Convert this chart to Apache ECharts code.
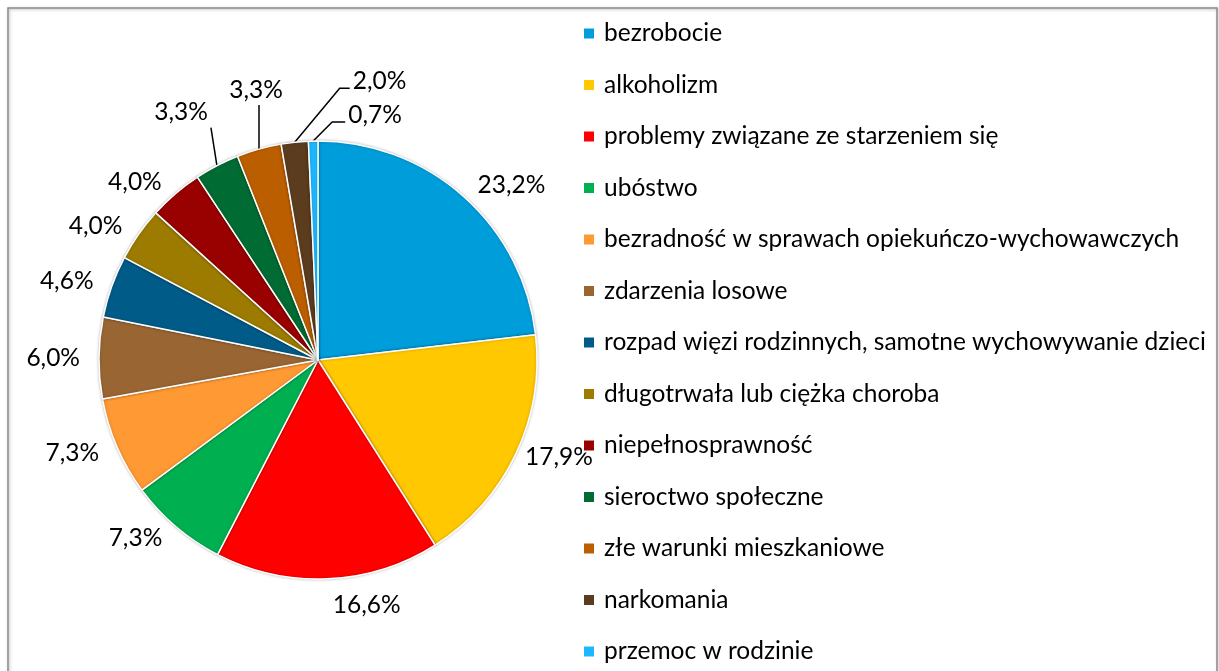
<!DOCTYPE html>
<html>
<head>
<meta charset="utf-8">
<script src="https://cdn.jsdelivr.net/npm/echarts@6/dist/echarts.min.js"></script>
<style>
  html, body { margin: 0; padding: 0; background: #fff; }
  #main { width: 1219px; height: 671px; }
</style>
</head>
<body>
<div id="main"></div>
<script>
// kategorie problemów (kolejność jak w legendzie)
const categories = [
  'bezrobocie',
  'alkoholizm',
  'problemy związane ze starzeniem się',
  'ubóstwo',
  'bezradność w sprawach opiekuńczo-wychowawczych',
  'zdarzenia losowe',
  'rozpad więzi rodzinnych, samotne wychowywanie dzieci',
  'długotrwała lub ciężka choroba',
  'niepełnosprawność',
  'sieroctwo społeczne',
  'złe warunki mieszkaniowe',
  'narkomania',
  'przemoc w rodzinie'
];
// udział w %
const shares = [23.2, 17.9, 16.6, 7.3, 7.3, 6.0, 4.6, 4.0, 4.0, 3.3, 3.3, 2.0, 0.7];

const colors = [
  '#009ddb', '#ffc800', '#ff0000', '#00b050', '#ff9933', '#996633', '#005b88',
  '#9c7b00', '#990000', '#006b33', '#bb5e00', '#5c3c1e', '#1cb8ff'
];

// małe wycinki z linią odniesienia: [dx zgięcia, dy zgięcia, poziomy ogon]
const leaders = {
  9: [-6, -38, 0],
  10: [0, -44, 0],
  11: [45, -54, 10],
  12: [19, -19, 13]
};
// odstęp etykiety od wycinka (gdy inny niż domyślny)
const labelGaps = { 1: 6, 2: 26 };

const FONT = 'Lato';

var myChart = echarts.init(document.getElementById('main'));

const data = categories.map((name, i) => ({
  name: name,
  value: shares[i],
  labelLine: { show: leaders[i] !== undefined, length: labelGaps[i] !== undefined ? labelGaps[i] : 15 }
}));

myChart.setOption({
  animation: false,
  color: colors,
  graphic: [{
    type: 'rect',
    shape: { x: 8, y: 8, width: 1209, height: 700 },
    style: { fill: 'none', stroke: '#8a8a8a', lineWidth: 1.5, shadowBlur: 3, shadowColor: 'rgba(0,0,0,0.3)', shadowOffsetX: 1, shadowOffsetY: 1 },
    silent: true
  }],
  legend: {
    orient: 'vertical',
    left: 582,
    top: 21,
    padding: 0,
    icon: 'rect',
    itemWidth: 12,
    itemHeight: 12,
    itemGap: 26.5,
    textStyle: { fontFamily: FONT, fontSize: 24.5, color: '#000', lineHeight: 24, padding: [0, 0, 0, 4] },
    data: categories
  },
  series: [{
    type: 'pie',
    center: [318, 360],
    radius: 219,
    startAngle: 90,
    clockwise: true,
    avoidLabelOverlap: false,
    itemStyle: { borderColor: '#fff', borderWidth: 1.5, shadowBlur: 3, shadowColor: 'rgba(0,0,0,0.25)' },
    label: {
      position: 'outside',
      fontFamily: FONT,
      fontSize: 24.5,
      color: '#000',
      distanceToLabelLine: 4,
      formatter: p => p.value.toFixed(1).replace('.', ',') + '%'
    },
    labelLine: { length: 15, length2: 0, lineStyle: { color: '#000', width: 1.5 } },
    labelLayout: function (params) {
      const b = leaders[params.dataIndex];
      if (!b || !params.labelLinePoints) return {};
      const p0 = params.labelLinePoints[0];
      const p1 = [p0[0] + b[0], p0[1] + b[1]];
      const p2 = [p1[0] + b[2], p1[1]];
      if (b[2] > 0) {
        return { x: p2[0] + 3, y: p2[1] - 7, align: 'left', verticalAlign: 'middle', labelLinePoints: [p0, p1, p2] };
      }
      return { x: p1[0] - 3, y: p1[1] - 3, align: b[0] < 0 ? 'right' : 'center', verticalAlign: 'bottom', labelLinePoints: [p0, p1, p2] };
    },
    data: data
  }]
});
</script>
</body>
</html>
